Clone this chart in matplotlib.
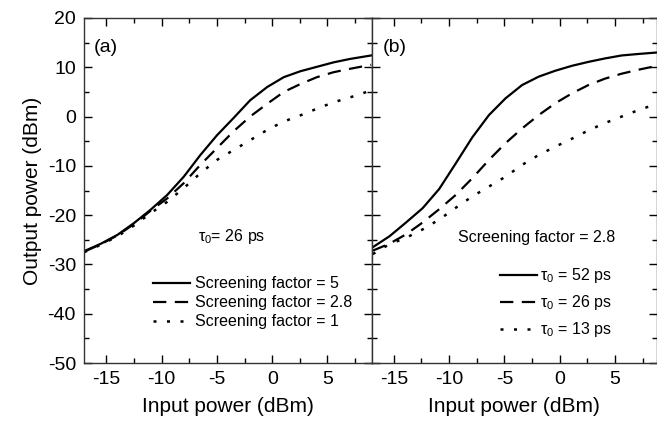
import matplotlib
matplotlib.use("Agg")
import matplotlib.pyplot as plt
from matplotlib.ticker import MultipleLocator

plt.rcParams["font.family"] = ["Liberation Sans", "DejaVu Sans"]
plt.rcParams["mathtext.fontset"] = "custom"
plt.rcParams["mathtext.rm"] = "Liberation Sans"
plt.rcParams["mathtext.it"] = "Liberation Sans"
plt.rcParams["axes.unicode_minus"] = False

# panel (a): tau0 = 26 ps, different screening factors
a_x = [-17, -15.5, -14, -12.5, -11, -9.5, -8, -6.5, -5, -3.5, -2, -0.45,
       1.05, 2.55, 4.05, 5.55, 7.05, 8.95]
a_y_sf5 = [-27.3, -25.8, -24.0, -21.6, -18.9, -15.9, -12.2, -7.8, -3.8, -0.3,
           3.3, 6.0, 8.0, 9.2, 10.1, 11.0, 11.7, 12.4]
a_y_sf28 = [-27.4, -25.9, -24.1, -21.8, -19.1, -16.6, -13.5, -9.8, -6.4, -3.0,
            0.0, 2.6, 5.0, 6.6, 8.0, 9.0, 9.7, 10.5]
a_y_sf1 = [-27.5, -26.0, -24.3, -22.1, -19.6, -17.3, -14.5, -11.5, -8.8, -6.8,
           -4.8, -2.7, -1.0, 0.25, 1.6, 2.9, 3.9, 5.3]

# panel (b): screening factor = 2.8, different tau0
b_x = [-16.9, -15.4, -13.9, -12.4, -10.9, -9.4, -7.9, -6.4, -4.9, -3.4, -1.9,
       -0.4, 1.1, 2.6, 4.1, 5.6, 7.1, 8.8]
b_y_52 = [-26.5, -24.3, -21.5, -18.6, -14.7, -9.5, -4.2, 0.3, 3.7, 6.4, 8.1,
          9.3, 10.3, 11.1, 11.8, 12.4, 12.7, 13.0]
b_y_26 = [-27.2, -25.8, -23.9, -21.5, -18.8, -15.9, -12.5, -8.8, -5.4, -2.4,
          0.3, 2.7, 4.7, 6.4, 7.7, 8.7, 9.5, 10.3]
b_y_13 = [-27.9, -25.9, -24.6, -22.9, -20.9, -18.5, -16.2, -14.2, -12.2, -9.8,
          -7.8, -6.1, -4.5, -2.8, -1.3, 0.0, 1.3, 2.6]

a_labels = ["Screening factor = 5", "Screening factor = 2.8", "Screening factor = 1"]
b_labels = [r"$\tau_0$ = 52 ps", r"$\tau_0$ = 26 ps", r"$\tau_0$ = 13 ps"]

W, H = 657, 424
fig = plt.figure(figsize=(W / 100, H / 100), dpi=100)
bot = (H - 363) / H
ht = 345 / H
ax1 = fig.add_axes([84.3 / W, bot, (371.7 - 84.3) / W, ht])
ax2 = fig.add_axes([371.7 / W, bot, (656.5 - 371.7) / W, ht])

solid = dict(color="black", lw=1.6, linestyle="-")
dashed = dict(color="black", lw=1.6, dashes=(6, 3.8))
dotted = dict(color="black", lw=1.8, dashes=(1.2, 4.2))

ax1.plot(a_x, a_y_sf5, label=a_labels[0], **solid)
ax1.plot(a_x, a_y_sf28, label=a_labels[1], **dashed)
ax1.plot(a_x, a_y_sf1, label=a_labels[2], **dotted)

ax2.plot(b_x, b_y_52, label=b_labels[0], **solid)
ax2.plot(b_x, b_y_26, label=b_labels[1], **dashed)
ax2.plot(b_x, b_y_13, label=b_labels[2], **dotted)

for ax, right in ((ax1, 9), (ax2, 8.75)):
    ax.set_xlim(-17, right)
    ax.set_ylim(-50, 20)
    ax.xaxis.set_major_locator(MultipleLocator(5))
    ax.xaxis.set_minor_locator(MultipleLocator(2.5))
    ax.yaxis.set_major_locator(MultipleLocator(10))
    ax.yaxis.set_minor_locator(MultipleLocator(5))
    ax.tick_params(which="both", direction="in", top=True, right=True,
                   labelsize=14, width=1, pad=6)
    ax.tick_params(which="major", length=6)
    ax.tick_params(which="minor", length=3.5)
    for s in ax.spines.values():
        s.set_linewidth(1)
        s.set_color("#333333")
    ax.set_xlabel("Input power (dBm)", fontsize=15, labelpad=6)

ax2.tick_params(labelleft=False)
ax1.set_ylabel("Output power (dBm)", fontsize=15, labelpad=4)

ax1.text(-16.1, 14, "(a)", fontsize=14, va="center")
ax2.text(-16.0, 14, "(b)", fontsize=14, va="center")
ax1.text(-6.75, -24.4, r"$\tau_0$= 26 ps", fontsize=11.5, va="center")
ax2.text(-9.2, -24.6, "Screening factor = 2.8", fontsize=11.5, va="center")

ax1.legend(loc="center left", bbox_to_anchor=(0.24, 0.174), frameon=False,
           fontsize=11.5, handlelength=2.3, handletextpad=0.3,
           labelspacing=0.25, borderpad=0, borderaxespad=0)
ax2.legend(loc="center left", bbox_to_anchor=(0.45, 0.175), frameon=False,
           fontsize=11.5, handlelength=2.3, handletextpad=0.2,
           labelspacing=0.5, borderpad=0, borderaxespad=0)

fig.savefig("out.png", dpi=100)
